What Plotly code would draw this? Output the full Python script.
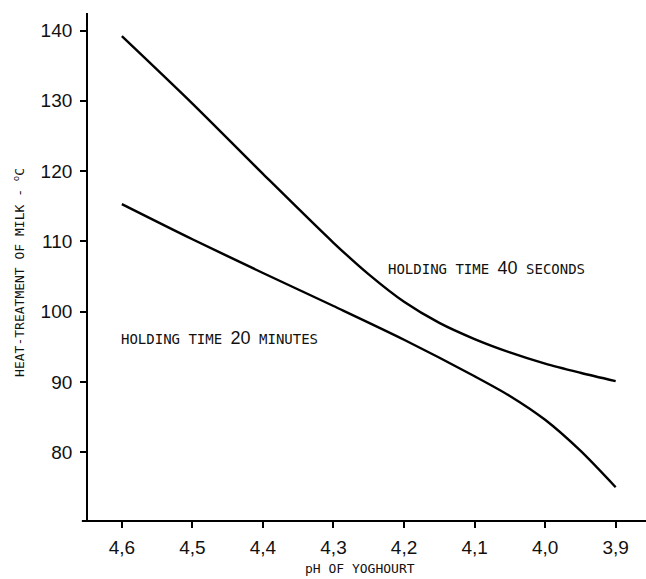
import plotly.graph_objects as go

# pH values (x) and heat-treatment temperatures (y)
ph_40s = [4.60, 4.50, 4.40, 4.30, 4.25, 4.20, 4.15, 4.10, 4.05, 4.00, 3.95, 3.90]
temp_40s = [139.2, 129.6, 119.6, 109.8, 105.3, 101.4, 98.4, 96.1, 94.2, 92.6, 91.3, 90.1]

ph_20m = [4.60, 4.50, 4.40, 4.30, 4.20, 4.10, 4.05, 4.00, 3.95, 3.90]
temp_20m = [115.3, 110.3, 105.5, 100.8, 96.0, 90.8, 88.0, 84.6, 80.2, 75.0]

x_tickvals = [4.6, 4.5, 4.4, 4.3, 4.2, 4.1, 4.0, 3.9]
x_ticktext = ["4,6", "4,5", "4,4", "4,3", "4,2", "4,1", "4,0", "3,9"]
y_tickvals = [80, 90, 100, 110, 120, 130, 140]

mono = "DejaVu Sans Mono, monospace"
narrow = "Liberation Sans, Arial, sans-serif"

num_span = "<span style='font-family:Liberation Sans, Arial;font-size:18px'>{}</span>"
label_40s = "HOLDING TIME " + num_span.format("40") + " SECONDS"
label_20m = "HOLDING TIME " + num_span.format("20") + " MINUTES"

fig = go.Figure()
fig.add_trace(go.Scatter(x=ph_40s, y=temp_40s, mode="lines",
                         line=dict(color="black", width=2.4, shape="spline", smoothing=0.8),
                         showlegend=False, hoverinfo="skip"))
fig.add_trace(go.Scatter(x=ph_20m, y=temp_20m, mode="lines",
                         line=dict(color="black", width=2.4, shape="spline", smoothing=0.8),
                         showlegend=False, hoverinfo="skip"))

fig.add_annotation(x=4.226, y=106.2, text=label_40s, showarrow=False,
                   xanchor="left", yanchor="middle",
                   font=dict(family=mono, size=14, color="#111"))
fig.add_annotation(x=4.604, y=96.2, text=label_20m, showarrow=False,
                   xanchor="left", yanchor="middle",
                   font=dict(family=mono, size=14, color="#111"))

# axis titles
fig.add_annotation(xref="paper", yref="paper", x=0.487, y=-0.094,
                   xanchor="center", yanchor="middle", showarrow=False,
                   text="pH OF YOGHOURT", font=dict(family=mono, size=13, color="#111"))
fig.add_annotation(xref="paper", yref="paper", x=-0.124, y=0.49,
                   xanchor="center", yanchor="middle", showarrow=False, textangle=-90,
                   text="HEAT-TREATMENT OF MILK - <sup>o</sup>C",
                   font=dict(family=mono, size=13, color="#111"))

fig.update_layout(
    width=646, height=579,
    margin=dict(l=88, r=0, t=13, b=58),
    paper_bgcolor="white", plot_bgcolor="white",
    xaxis=dict(range=[4.648, 3.857], tickvals=x_tickvals, ticktext=x_ticktext,
               showgrid=False, zeroline=False, showline=False,
               ticks="outside", ticklen=6, tickwidth=1.5, tickcolor="black",
               tickfont=dict(family=narrow, size=19, color="#111"),
               ticklabelstandoff=3),
    yaxis=dict(range=[70.2, 142.5], tickvals=y_tickvals,
               showgrid=False, zeroline=False, showline=True, linecolor="black", linewidth=1.8,
               ticks="outside", ticklen=6, tickwidth=1.5, tickcolor="black",
               tickfont=dict(family=narrow, size=19, color="#111"),
               ticklabelstandoff=4),
)
# bottom axis line, extending slightly to the left of the y axis as in the original
fig.add_shape(type="line", xref="paper", yref="paper", x0=-0.011, x1=1.0, y0=0, y1=0,
              line=dict(color="black", width=1.8))

fig.write_html("out.html",
               config={"displayModeBar": False},
               post_script="document.body.style.margin='0';document.body.style.padding='0';"
                           "document.body.style.overflow='hidden';")
